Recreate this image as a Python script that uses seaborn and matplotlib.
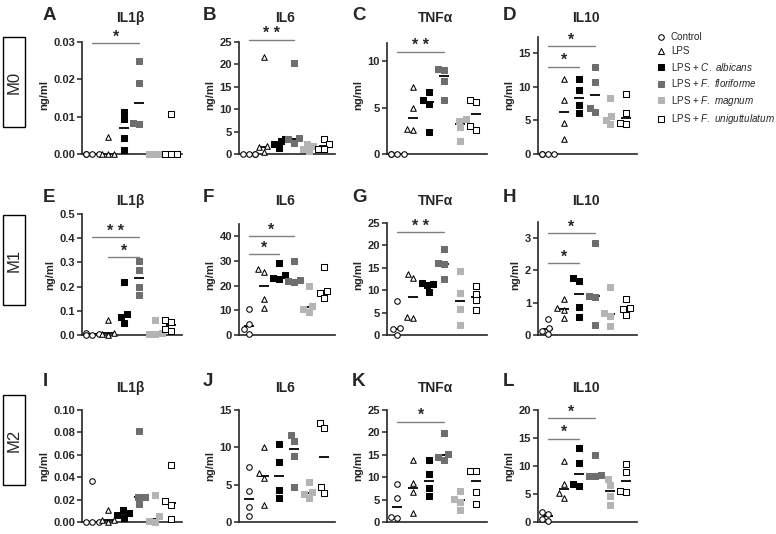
import numpy as np
import pandas as pd
import seaborn as sns
import matplotlib.pyplot as plt
from matplotlib.lines import Line2D
from matplotlib.patches import Rectangle

# groups, 4 wells each
groups = ["Control", "LPS", "LPS + C. albicans", "LPS + F. floriforme",
          "LPS + F. magnum", "LPS + F. uniguttulatum"]
legend_labels = ["Control", "LPS",
                 r"LPS + $\mathit{C.\ albicans}$",
                 r"LPS + $\mathit{F.\ floriforme}$",
                 r"LPS + $\mathit{F.\ magnum}$",
                 r"LPS + $\mathit{F.\ uniguttulatum}$"]
row_labels = ["M0", "M1", "M2"]
cytokines = ["IL1β", "IL6", "TNFα", "IL10"]
letters = list("ABCDEFGHIJKL")

# ng/ml values, one list per group
m0_il1b = [[0, 0, 0, 0], [0.0045, 0, 0, 0], [0.0112, 0.0094, 0.0044, 0.0011],
           [0.025, 0.0189, 0.0083, 0.0079], [0, 0, 0, 0], [0.0108, 0, 0, 0]]
m0_il6 = [[0, 0, 0, 0], [21.7, 1.8, 1.5, 0.5], [3.3, 2.8, 2.3, 1.4],
          [20.2, 3.5, 3.3, 2.5], [2.3, 1.8, 1.1, 0.6], [3.3, 2.2, 1.2, 1.2]]
m0_tnfa = [[0, 0, 0, 0], [7.2, 5.0, 2.65, 2.55], [6.7, 5.8, 5.4, 2.4],
           [9.2, 9.0, 7.9, 5.8], [3.8, 3.6, 2.9, 1.4], [5.8, 5.6, 3.0, 2.6]]
m0_il10 = [[0, 0, 0, 0], [11.1, 8.0, 4.6, 2.3], [11.2, 9.5, 7.3, 6.1],
           [13.0, 10.7, 6.9, 6.2], [8.4, 5.7, 5.1, 4.4], [8.9, 6.1, 4.6, 4.5]]

m1_il1b = [[0.008, 0.004, 0.002, 0.001], [0.06, 0.008, 0.005, 0.002],
           [0.22, 0.085, 0.075, 0.05], [0.305, 0.27, 0.2, 0.165],
           [0.06, 0.01, 0.006, 0.003], [0.063, 0.055, 0.025, 0.018]]
m1_il6 = [[10.6, 4.6, 2.3, 0.3], [26.6, 25.4, 14.5, 11.1], [29.0, 24.2, 23.0, 22.8],
          [29.8, 22.4, 21.8, 21.6], [20.0, 11.8, 10.5, 9.4], [27.4, 17.6, 17.0, 15.0]]
m1_tnfa = [[7.5, 1.6, 1.3, 0.1], [13.6, 12.7, 4.1, 3.8], [11.6, 11.3, 11.1, 9.7],
           [19.2, 16.0, 15.8, 12.5], [14.2, 9.4, 5.8, 2.2], [11.0, 9.2, 7.7, 5.6]]
m1_il10 = [[0.5, 0.23, 0.13, 0.03], [1.12, 0.83, 0.77, 0.52], [1.77, 1.68, 0.87, 0.56],
           [2.83, 1.21, 1.19, 0.3], [1.47, 0.67, 0.6, 0.29], [1.12, 0.83, 0.79, 0.61]]

m2_il1b = [[0.037, 0, 0, 0], [0.011, 0.002, 0.002, 0.0], [0.011, 0.008, 0.006, 0.004],
           [0.0815, 0.0225, 0.0222, 0.0165], [0.024, 0.005, 0.001, 0.0],
           [0.0505, 0.0185, 0.0155, 0.003]]
m2_il6 = [[7.3, 4.1, 2.0, 0.8], [10.0, 6.5, 5.9, 2.3], [10.4, 8.0, 4.3, 3.2],
          [11.6, 10.8, 8.8, 4.7], [5.3, 4.0, 3.7, 3.2], [13.3, 12.6, 4.7, 3.9]]
m2_tnfa = [[8.5, 5.3, 1.2, 0.8], [13.9, 8.8, 6.6, 2.0], [13.8, 10.7, 7.6, 5.9],
           [19.8, 15.2, 14.6, 13.9], [7.0, 5.2, 4.5, 2.6], [11.3, 11.3, 6.8, 4.1]]
m2_il10 = [[1.8, 1.5, 0.6, 0.2], [10.9, 6.7, 5.1, 4.3], [13.3, 10.5, 6.7, 6.5],
           [12.0, 8.4, 8.3, 8.3], [7.7, 6.6, 4.6, 3.0], [10.4, 9.0, 5.5, 5.4]]

panel_data = [m0_il1b, m0_il6, m0_tnfa, m0_il10,
              m1_il1b, m1_il6, m1_tnfa, m1_il10,
              m2_il1b, m2_il6, m2_tnfa, m2_il10]

# axis setup per panel: (ylim top, spine top, ticks, label format)
axis_cfg = [(0.0313, 0.03, [0, 0.01, 0.02, 0.03], "%.2f"),
            (26.1, 25, [0, 5, 10, 15, 20, 25], "%d"),
            (12.6, 12, [0, 5, 10], "%d"),
            (17.4, 17.4, [0, 5, 10, 15], "%d"),
            (0.5, 0.5, [0, 0.1, 0.2, 0.3, 0.4, 0.5], "%.1f"),
            (48.9, 45, [0, 10, 20, 30, 40], "%d"),
            (27.0, 25, [0, 5, 10, 15, 20, 25], "%d"),
            (3.74, 3.5, [0, 1, 2, 3], "%d"),
            (0.10, 0.10, [0, 0.02, 0.04, 0.06, 0.08, 0.10], "%.2f"),
            (15, 15, [0, 5, 10, 15], "%d"),
            (25, 25, [0, 5, 10, 15, 20, 25], "%d"),
            (20, 20, [0, 5, 10, 15, 20], "%d")]

# significance bars: (from group, to group, y, label)
sig = {0: [(0, 3, 0.0296, "*")],
       1: [(0, 3, 25.5, "* *")],
       2: [(0, 3, 11.0, "* *")],
       3: [(0, 2, 13.0, "*"), (0, 3, 16.0, "*")],
       4: [(0, 3, 0.404, "* *"), (1, 3, 0.322, "*")],
       5: [(0, 3, 40.0, "*"), (0, 2, 32.7, "*")],
       6: [(0, 3, 22.9, "* *")],
       7: [(0, 3, 3.15, "*"), (0, 2, 2.22, "*")],
       10: [(0, 3, 22.4, "*")],
       11: [(0, 3, 18.6, "*"), (0, 2, 14.9, "*")]}

markers = ["o", "^", "s", "s", "s", "s"]
faces = ["white", "white", "black", "#6e6e6e", "#b4b4b4", "white"]
edges = ["black", "black", "black", "#6e6e6e", "#b4b4b4", "black"]

sns.set_style("ticks")
plt.rcParams["font.family"] = ["Liberation Sans", "DejaVu Sans"]
plt.rcParams["mathtext.fontset"] = "custom"
plt.rcParams["mathtext.rm"] = "Liberation Sans"
plt.rcParams["mathtext.it"] = "Liberation Sans:italic"

W, H = 776, 534
fig = plt.figure(figsize=(W / 100, H / 100), dpi=100)

rows_px = [(37, 154), (214, 335), (410, 522)]
cols_px = [(82, 182), (239, 335), (387, 487), (538, 637)]
letter_y = [16, 197, 381]
title_y = [18, 201, 388]
letter_x = [43, 203, 352, 503]

for i, vals in enumerate(panel_data):
    r, c = divmod(i, 4)
    (y0, y1), (x0, x1) = rows_px[r], cols_px[c]
    ax = fig.add_axes([x0 / W, 1 - y1 / H, (x1 - x0) / W, (y1 - y0) / H])
    top, spine_top, ticks, fmt = axis_cfg[i]

    df = pd.DataFrame({"group": np.repeat(groups, 4), "val": np.concatenate(vals)})
    for g, m, fc, ec in zip(groups, markers, faces, edges):
        sns.swarmplot(data=df[df.group == g], x="group", y="val", order=groups,
                      marker=m, color=fc, edgecolor=ec, linewidth=0.75, size=4,
                      warn_thresh=1, ax=ax)
    for coll in ax.collections:
        coll.set_clip_on(False)
        coll.set_zorder(3)
    # median line
    sns.pointplot(data=df, x="group", y="val", order=groups, estimator="median",
                  errorbar=None, markers="_", markersize=7, markeredgewidth=1.3,
                  linestyle="none", color="black", ax=ax)

    for a, b, y, lab in sig.get(i, []):
        ax.plot([a, b], [y, y], color="#808080", lw=1, clip_on=False)
        ax.annotate(lab, xy=((a + b) / 2, y), xytext=(0, 1), textcoords="offset points",
                    ha="center", va="baseline", fontsize=11.5, fontweight="bold",
                    annotation_clip=False)

    ax.set_xlim(-0.65, 5.7)
    ax.set_ylim(0, top)
    ax.set_xticks([])
    ax.set_xlabel("")
    ax.set_yticks(ticks, [fmt % t for t in ticks])
    ax.set_ylabel("ng/ml", fontsize=8, fontweight="bold", labelpad=3)
    ax.tick_params(axis="y", length=3.5, width=1.1, labelsize=8, pad=1.5)
    for t in ax.get_yticklabels():
        t.set_fontweight("bold")
    sns.despine(ax=ax)
    for s in ["left", "bottom"]:
        ax.spines[s].set_linewidth(1.2)
    ax.spines["left"].set_bounds(0, spine_top)

    fig.text(letter_x[c] / W, 1 - letter_y[r] / H, letters[i], fontsize=13.5,
             fontweight="bold", ha="left", va="center")
    fig.text((x0 + x1) / 2 / W - 2 / W, 1 - title_y[r] / H, cytokines[c], fontsize=10,
             fontweight="bold", ha="center", va="center")

# row labels in boxes
box_px = [(37, 127), (215, 305), (395, 485)]
for lab, (b0, b1) in zip(row_labels, box_px):
    fig.add_artist(Rectangle((3 / W, 1 - b1 / H), 22 / W, (b1 - b0) / H,
                             transform=fig.transFigure, fill=False, ec="black", lw=1))
    fig.text(14 / W, 1 - (b0 + b1) / 2 / H, lab, rotation=90, fontsize=12,
             ha="center", va="center")

handles = [Line2D([], [], marker=m, ls="none", markerfacecolor=fc, markeredgecolor=ec,
                  markersize=4, markeredgewidth=0.75)
           for m, fc, ec in zip(markers, faces, edges)]
fig.legend(handles, legend_labels, loc="upper left", bbox_to_anchor=(656 / W, 1 - 32 / H),
           frameon=False, fontsize=7.1, handlelength=1, handletextpad=0.5,
           labelspacing=0.45, borderaxespad=0, borderpad=0)

fig.savefig("out.png", dpi=100)
